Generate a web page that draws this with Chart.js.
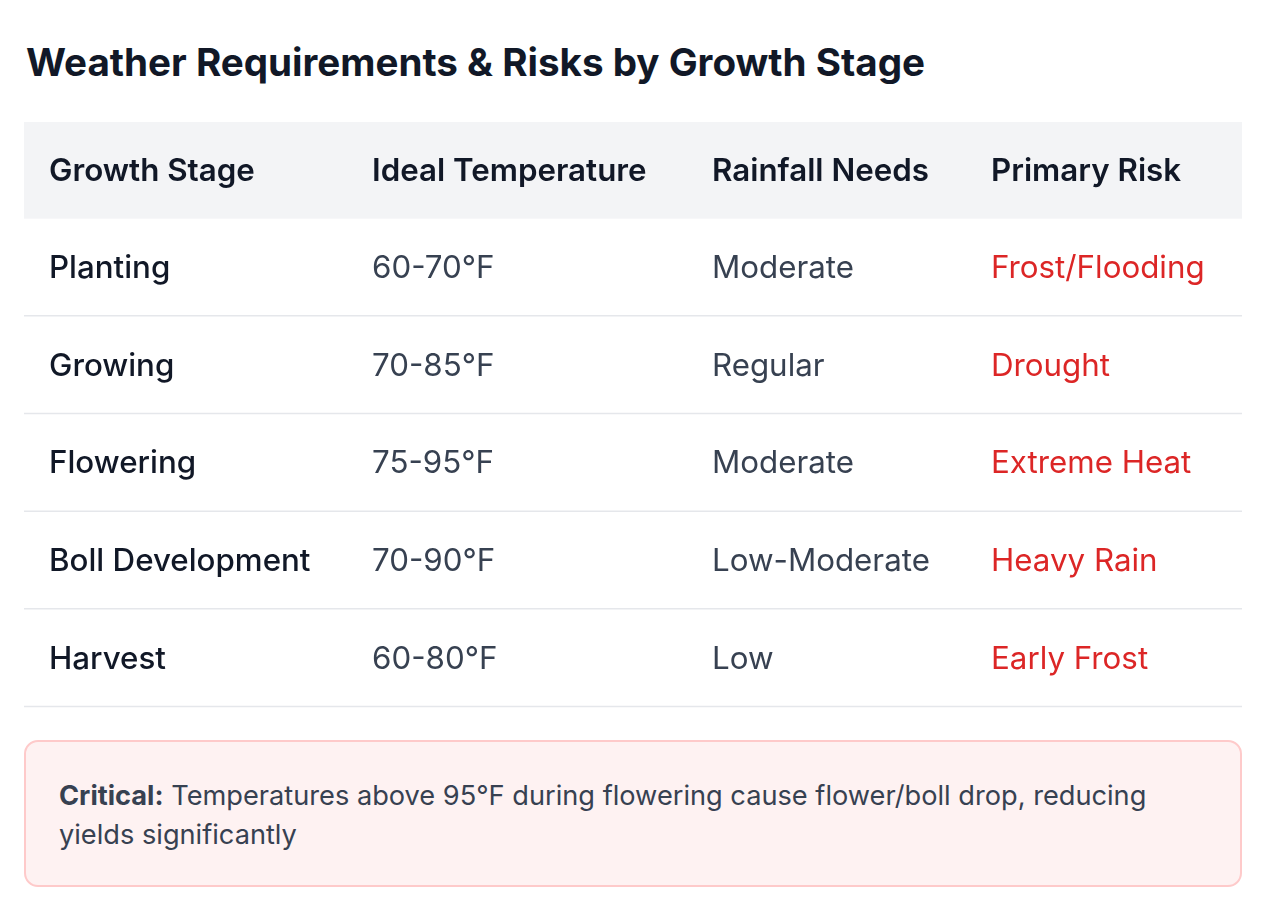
<!DOCTYPE html>
<html>
<head>
<meta charset="utf-8">
<script src="https://cdn.jsdelivr.net/npm/chart.js@4"></script>
<style>
  html, body { margin:0; padding:0; background:#ffffff; }
  body { width:1261px; height:904px; position:relative; font-family:Inter, "Noto Sans", sans-serif; }
  h1 { position:absolute; left:26px; top:37px; margin:0; font-size:38.6px; line-height:50px; font-weight:700; color:#111827; }
  #tableWrap { position:absolute; left:24px; top:122px; width:1218px; height:586px; }
  #note { position:absolute; left:24px; top:740px; width:1218px; height:147px; box-sizing:border-box; background:#fef2f2; border:2px solid #fecaca; border-radius:14px; padding:34px 33px; font-size:27.2px; line-height:39px; color:#374151; }
  #note b { font-weight:700; }
</style>
</head>
<body>
<h1>Weather Requirements &amp; Risks by Growth Stage</h1>
<div id="tableWrap"><canvas id="c"></canvas></div>
<div id="note"><b>Critical:</b> Temperatures above 95°F during flowering cause flower/boll drop, reducing yields significantly</div>
<script>
// ---- data ----
const headers = ["Growth Stage", "Ideal Temperature", "Rainfall Needs", "Primary Risk"];
const stages = ["Planting", "Growing", "Flowering", "Boll Development", "Harvest"];
const idealTemps = ["60-70°F", "70-85°F", "75-95°F", "70-90°F", "60-80°F"];
const rainfallNeeds = ["Moderate", "Regular", "Moderate", "Low-Moderate", "Low"];
const primaryRisks = ["Frost/Flooding", "Drought", "Extreme Heat", "Heavy Rain", "Early Frost"];

// ---- layout / style ----
const colTextX = [25, 348, 688, 967];
const rowLabels = ["__header__"].concat(stages);
const columns = [stages, idealTemps, rainfallNeeds, primaryRisks];
const colColors = ["#111827", "#374151", "#374151", "#dc2626"];
const colWeights = ["500", "400", "400", "400"];
const FONT_PX = 31.3;

const datasets = columns.map((col, ci) => ({
  label: headers[ci],
  data: col.map((v, ri) => ({ x: colTextX[ci], y: stages[ri], text: v })),
  pointRadius: 0,
  pointHoverRadius: 0,
  showLine: false
}));

const tablePlugin = {
  id: 'tablePlugin',
  beforeDatasetsDraw(chart) {
    const ctx = chart.ctx;
    const xs = chart.scales.x, ys = chart.scales.y;
    const area = chart.chartArea;
    const n = rowLabels.length;
    const band = (ys.getPixelForValue(1) - ys.getPixelForValue(0));
    const boundary = i => ys.getPixelForValue(i) + band / 2;
    ctx.save();
    // header background
    ctx.fillStyle = "#f3f4f6";
    ctx.fillRect(area.left, area.top, area.right - area.left, boundary(0) - area.top - 1);
    // row separators
    ctx.strokeStyle = "#e5e7eb";
    ctx.lineWidth = 1.5;
    for (let i = 1; i < n; i++) {
      let y = Math.min(boundary(i) - 1.5, area.bottom - 1);
      ctx.beginPath();
      ctx.moveTo(area.left, y);
      ctx.lineTo(area.right, y);
      ctx.stroke();
    }
    // header text
    ctx.textBaseline = "middle";
    ctx.textAlign = "left";
    ctx.fillStyle = "#111827";
    ctx.font = "600 " + FONT_PX + "px Inter, 'Noto Sans', sans-serif";
    headers.forEach((h, ci) => {
      ctx.fillText(h, xs.getPixelForValue(colTextX[ci]), ys.getPixelForValue(0) + 1);
    });
    // body text from dataset elements
    chart.data.datasets.forEach((ds, ci) => {
      const meta = chart.getDatasetMeta(ci);
      ctx.fillStyle = colColors[ci];
      ctx.font = colWeights[ci] + " " + FONT_PX + "px Inter, 'Noto Sans', sans-serif";
      meta.data.forEach((el, ri) => {
        ctx.fillText(ds.data[ri].text, el.x, el.y);
      });
    });
    ctx.restore();
  }
};

new Chart(document.getElementById('c'), {
  type: 'scatter',
  data: { datasets },
  options: {
    responsive: true,
    maintainAspectRatio: false,
    animation: false,
    events: [],
    layout: { padding: 0 },
    plugins: { legend: { display: false }, tooltip: { enabled: false } },
    scales: {
      x: { type: 'linear', min: 0, max: 1218, display: false },
      y: { type: 'category', labels: rowLabels, offset: true, display: false }
    }
  },
  plugins: [tablePlugin]
});
</script>
</body>
</html>
